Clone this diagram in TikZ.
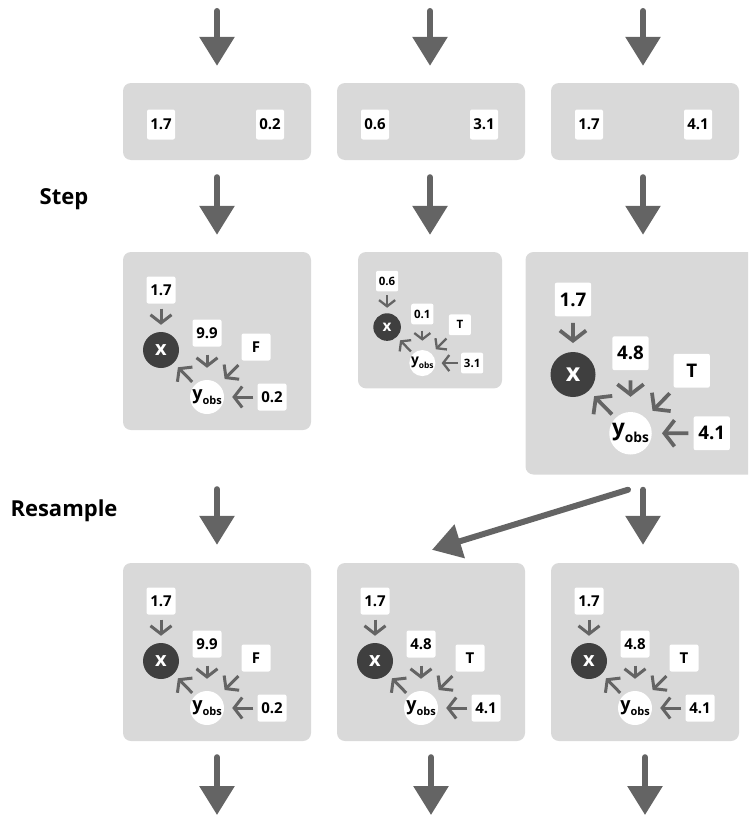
\documentclass[tikz,border=0pt]{standalone}
\usepackage{fontspec}
\setmainfont{Open Sans}
\usetikzlibrary{arrows.meta,calc}
\definecolor{panelgray}{HTML}{D9D9D9}
\definecolor{arrowgray}{HTML}{646464}
\definecolor{xdark}{HTML}{3F3F3F}
\newcommand\yobs{y\raisebox{-5.5pt}{\fontsize{11}{11}\selectfont obs}}
\tikzset{
  panel/.style={fill=panelgray, rounded corners=8pt, minimum width=188pt, minimum height=178pt, inner sep=0pt},
  toppanel/.style={fill=panelgray, rounded corners=8pt, minimum width=188pt, minimum height=77pt, inner sep=0pt},
  vbox/.style={fill=white, rounded corners=2pt, minimum width=29pt, minimum height=27pt, inner sep=0pt, font=\bfseries\fontsize{15}{15}\selectfont},
  tbox/.style={fill=white, rounded corners=2pt, minimum width=28pt, minimum height=30pt, inner sep=0pt, font=\bfseries\fontsize{15}{15}\selectfont},
  xnode/.style={circle, fill=xdark, text=white, minimum size=36pt, inner sep=0pt, font=\bfseries\fontsize{20}{20}\selectfont},
  ynode/.style={circle, fill=white, minimum size=34pt, inner sep=0pt, font=\bfseries\fontsize{18}{18}\selectfont},
  sarrow/.style={draw=arrowgray, -{Straight Barb[length=0pt 2.7, width=0pt 7]}},
  bigarrow/.style={draw=arrowgray, line width=6pt, line cap=round, -{Triangle[width=34pt,length=29pt]}},
  rowlabel/.style={font=\bfseries\fontsize{22}{22}\selectfont},
}
\newcommand\gpanel[8]{%
  \begin{scope}[shift={(#2,#3)}, scale=#4, transform shape]
    \node[panel] (#1) at (0,89) {};
    \node[vbox] (#1a) at (-56,38) {#5};
    \node[xnode] (#1x) at (-56,98) {x};
    \node[vbox] (#1b) at (-10,81) {#6};
    \node[vbox] (#1f) at (39,95) {#7};
    \node[ynode] (#1y) at (-10,145) {\yobs};
    \node[vbox] (#1c) at (55,145) {#8};
    \draw[sarrow, line width=#4*3pt, shorten <=#4*5pt, shorten >=#4*7pt] (#1a) -- (#1x);
    \draw[sarrow, line width=#4*3pt, shorten <=#4*8pt, shorten >=#4*12pt] (#1b) -- (#1y);
    \draw[sarrow, line width=#4*3pt, shorten <=#4*6pt, shorten >=#4*8pt] (#1f) -- (#1y);
    \draw[sarrow, line width=#4*3pt, shorten <=#4*4pt, shorten >=#4*8pt] (#1c) -- (#1y);
    \draw[sarrow, line width=#4*3pt, shorten <=#4*4pt, shorten >=#4*6pt] (#1y) -- (#1x);
  \end{scope}}
\newcommand\tpanel[4]{%
  \node[toppanel] (#1) at (#2,121.5) {};
  \node[tbox] (#1a) at ($(#1.center)+(-56,3)$) {#3};
  \node[tbox] (#1b) at ($(#1.center)+(53,3)$) {#4};}
\begin{document}
\begin{tikzpicture}[x=1pt,y=-1pt]
\useasboundingbox (0,0) rectangle (748,816);
\clip (0,0) rectangle (748,816);
% top row
\tpanel{t1}{217}{1.7}{0.2}
\tpanel{t2}{431}{0.6}{3.1}
\tpanel{t3}{645}{1.7}{4.1}
% step row
\gpanel{m1}{217}{252}{1}{1.7}{9.9}{F}{0.2}
\gpanel{m2}{430}{252}{0.766}{0.6}{0.1}{T}{3.1}
\gpanel{m3}{643}{252}{1.25}{1.7}{4.8}{T}{4.1}
% resample row
\gpanel{b1}{217}{563}{1}{1.7}{9.9}{F}{0.2}
\gpanel{b2}{431}{563}{1}{1.7}{4.8}{T}{4.1}
\gpanel{b3}{645}{563}{1}{1.7}{4.8}{T}{4.1}
% labels
\node[rowlabel] (lstep) at (64,199) {Step};
\node[rowlabel] (lres) at (64,511) {Resample};
% incoming arrows
\coordinate (s1) at (217,11);
\coordinate (s2) at (430,11);
\coordinate (s3) at (643,11);
\draw[bigarrow, shorten >=17pt] (s1) -- (s1 |- t1.north);
\draw[bigarrow, shorten >=17pt] (s2) -- (s2 |- t2.north);
\draw[bigarrow, shorten >=17pt] (s3) -- (s3 |- t3.north);
% top -> step
\draw[bigarrow, shorten <=17pt, shorten >=17pt] (t1.south -| m1.north) -- (m1.north);
\draw[bigarrow, shorten <=17pt, shorten >=17pt] (t2.south -| m2.north) -- (m2.north);
\draw[bigarrow, shorten <=17pt, shorten >=17pt] (t3.south -| m3.north) -- (m3.north);
% step -> resample
\draw[bigarrow, shorten <=59pt, shorten >=18pt] (m1.south) -- (b1.north);
\draw[bigarrow, shorten <=15pt, shorten >=18pt] (m3.south) -- (m3.south |- b3.north);
\coordinate (d0) at ($(m3.south)+(-15,15)$);
\coordinate (d1) at ($(b2.north)+(1,-13)$);
\draw[bigarrow] (d0) -- (d1);
% outgoing arrows
\coordinate (e1) at (217,815);
\coordinate (e2) at (431,815);
\coordinate (e3) at (645,815);
\draw[bigarrow, shorten <=16pt] (b1.south) -- (e1);
\draw[bigarrow, shorten <=16pt] (b2.south) -- (e2);
\draw[bigarrow, shorten <=16pt] (b3.south) -- (e3);
\end{tikzpicture}
\end{document}
